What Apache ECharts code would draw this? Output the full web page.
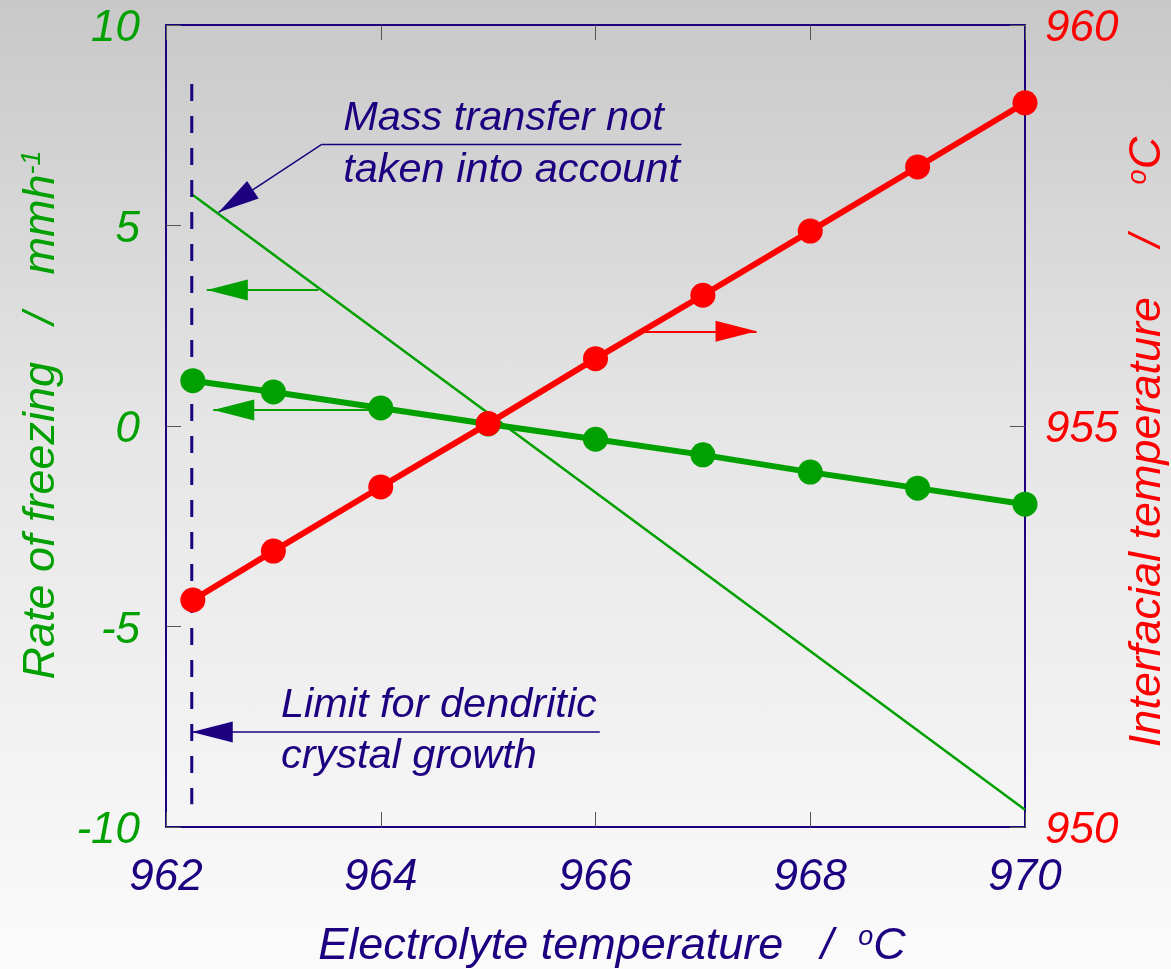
<!DOCTYPE html>
<html>
<head>
<meta charset="utf-8">
<script src="https://cdn.jsdelivr.net/npm/echarts@6/dist/echarts.min.js"></script>
<style>
  html, body { margin: 0; padding: 0; }
  #chart {
    width: 1171px; height: 969px;
    background: linear-gradient(to bottom, #c8c8c8 0%, #e6e6e6 45%, #fbfbfb 100%);
  }
</style>
</head>
<body>
<div id="chart"></div>
<script>
// Electrolyte temperature (°C) at which each point was computed
const electrolyteTemp = [962.25, 963, 964, 965, 966, 967, 968, 969, 970];
// Rate of freezing (mm/h), left axis
const freezingRate = [1.13, 0.85, 0.45, 0.05, -0.33, -0.72, -1.15, -1.55, -1.95];
// Interfacial temperature (°C), right axis
const interfacialTemp = [952.83, 953.44, 954.24, 955.03, 955.84, 956.63, 957.43, 958.23, 959.03];

// Freezing rate when mass transfer is ignored (straight line end points)
const noMassTransfer = [[962.25, 5.76], [970, -9.57]];
// Limit for dendritic crystal growth (vertical dashed line)
const dendriticLimit = [[962.24, 8.53], [962.24, -9.43]];

// Tick values
const xTicks = [962, 964, 966, 968, 970];
const rateTicks = [-10, -5, 0, 5, 10];
const tempTicks = [950, 955, 960];

// Callout arrows: [from, to]; arrowhead at "to"
const greenArrows = [
  [[963.42, 3.39], [962.38, 3.39]],
  [[963.99, 0.40], [962.44, 0.40]]
];
const redArrows = [
  [[966.46, 956.18], [967.50, 956.18]]
];
const massUnderline = [[966.80, 7.02], [963.45, 7.02]];
const navyArrows = [
  [[963.45, 7.02], [962.49, 5.33]],
  [[966.04, -7.63], [962.24, -7.63]]
];

// Callout texts anchored at their left edge
const calloutTexts = ['Mass transfer not', 'taken into account', 'Limit for dendritic', 'crystal growth'];
const calloutAnchors = [[963.65, 7.68], [963.65, 6.38], [963.07, -6.98], [963.07, -8.25]];

const NAVY = '#1c0080';
const GREEN = '#00a000';
const RED = '#ff0000';
const TICK = '#555555';
const FONT = '"Liberation Sans", Arial, sans-serif';

function markLines(list, color, width) {
  return {
    silent: true,
    animation: false,
    symbol: ['none', 'triangle'],
    symbolSize: [21, 41],
    symbolOffset: [0, [0, 20.5]],
    label: { show: false },
    emphasis: { disabled: true },
    lineStyle: { color: color, width: width, type: 'solid', opacity: 1 },
    itemStyle: { color: color },
    data: list.map(seg => [{ coord: seg[0] }, { coord: seg[1] }])
  };
}

function frameAxis(extra) {
  return Object.assign({
    type: 'value',
    axisLine: { show: true, onZero: false, lineStyle: { color: NAVY, width: 2 } },
    axisTick: { show: true, inside: true, length: 15, lineStyle: { color: TICK, width: 1 } },
    splitLine: { show: false }
  }, extra);
}

const chart = echarts.init(document.getElementById('chart'), null, { renderer: 'canvas' });

const tickFont = { fontStyle: 'italic', fontSize: 44, fontFamily: FONT };

chart.setOption({
  backgroundColor: 'transparent',
  animation: false,
  grid: { left: 166, right: 146, top: 25, bottom: 142 },
  xAxis: [
    frameAxis({
      position: 'bottom', min: xTicks[0], max: xTicks[xTicks.length - 1], interval: 2,
      axisLabel: Object.assign({ color: NAVY, margin: 29 }, tickFont)
    }),
    frameAxis({
      position: 'top', min: xTicks[0], max: xTicks[xTicks.length - 1], interval: 2,
      axisLabel: { show: false }
    })
  ],
  yAxis: [
    frameAxis({
      position: 'left', min: rateTicks[0], max: rateTicks[rateTicks.length - 1], interval: 5,
      axisLabel: Object.assign({ color: GREEN, margin: 26, verticalAlign: 'top', lineHeight: 8 }, tickFont)
    }),
    frameAxis({
      position: 'right', min: tempTicks[0], max: tempTicks[tempTicks.length - 1], interval: 5,
      axisLabel: Object.assign({ color: RED, margin: 20, verticalAlign: 'top', lineHeight: 8 }, tickFont)
    })
  ],
  graphic: [
    {
      type: 'text', x: 612, y: 946,
      style: {
        text: 'Electrolyte temperature   /  {sup|o}C',
        fill: NAVY, font: 'italic 45px ' + FONT, align: 'center', verticalAlign: 'middle',
        rich: { sup: { fontSize: 27, fontStyle: 'italic', fontFamily: FONT, fill: NAVY, verticalAlign: 'top' } }
      }
    },
    {
      type: 'text', x: 41, y: 415, rotation: Math.PI / 2,
      style: {
        text: 'Rate of freezing   /   mmh{sup|-1}',
        fill: GREEN, font: 'italic 45px ' + FONT, align: 'center', verticalAlign: 'middle',
        rich: { sup: { fontSize: 27, fontStyle: 'italic', fontFamily: FONT, fill: GREEN, verticalAlign: 'top' } }
      }
    },
    {
      type: 'text', x: 1147, y: 442, rotation: Math.PI / 2,
      style: {
        text: 'Interfacial temperature    /    {sup|o}C',
        fill: RED, font: 'italic 45px ' + FONT, align: 'center', verticalAlign: 'middle',
        rich: { sup: { fontSize: 27, fontStyle: 'italic', fontFamily: FONT, fill: RED, verticalAlign: 'top' } }
      }
    }
  ],
  series: [
    {
      name: 'No mass transfer', type: 'line', xAxisIndex: 0, yAxisIndex: 0, z: 2,
      data: noMassTransfer, showSymbol: false, symbol: 'none',
      lineStyle: { color: GREEN, width: 2.5 },
      markLine: markLines(greenArrows, GREEN, 2)
    },
    {
      name: 'Dendritic limit', type: 'line', xAxisIndex: 0, yAxisIndex: 0, z: 3,
      data: dendriticLimit, showSymbol: false, symbol: 'none',
      lineStyle: { color: NAVY, width: 3, type: [17, 15] },
      markLine: markLines(navyArrows, NAVY, 1.5)
    },
    {
      name: 'Underline', type: 'line', xAxisIndex: 0, yAxisIndex: 0, z: 3,
      data: massUnderline, showSymbol: false, symbol: 'none',
      lineStyle: { color: NAVY, width: 1.5 }
    },
    {
      name: 'Freezing rate', type: 'line', xAxisIndex: 0, yAxisIndex: 0, z: 4,
      data: electrolyteTemp.map((x, i) => [x, freezingRate[i]]),
      symbol: 'circle', symbolSize: 25, showSymbol: true,
      lineStyle: { color: GREEN, width: 6 },
      itemStyle: { color: GREEN }
    },
    {
      name: 'Interfacial temperature', type: 'line', xAxisIndex: 0, yAxisIndex: 1, z: 5,
      data: electrolyteTemp.map((x, i) => [x, interfacialTemp[i]]),
      symbol: 'circle', symbolSize: 25, showSymbol: true,
      lineStyle: { color: RED, width: 6 },
      itemStyle: { color: RED },
      markLine: markLines(redArrows, RED, 2)
    },
    {
      name: 'Callouts', type: 'custom', xAxisIndex: 0, yAxisIndex: 0, z: 6,
      data: calloutAnchors,
      encode: { x: 0, y: 1 },
      silent: true,
      renderItem: (params, api) => {
        const p = api.coord([api.value(0), api.value(1)]);
        return {
          type: 'text', x: p[0], y: p[1],
          style: {
            text: calloutTexts[params.dataIndex],
            fill: NAVY, font: 'italic 41.5px ' + FONT,
            align: 'left', verticalAlign: 'middle'
          }
        };
      }
    }
  ]
});
</script>
</body>
</html>
